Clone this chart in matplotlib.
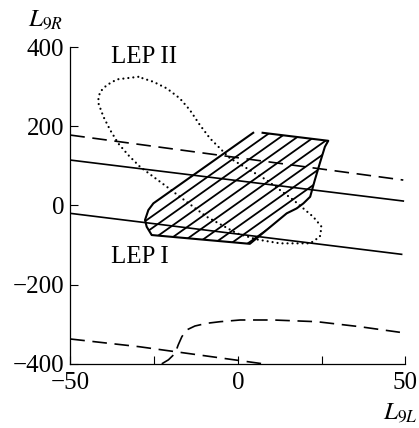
import numpy as np
import matplotlib
matplotlib.use("Agg")
import matplotlib.pyplot as plt
from matplotlib.patches import Polygon

plt.rcParams['font.family'] = ['Liberation Serif', 'DejaVu Serif']
plt.rcParams['mathtext.fontset'] = 'stix'
plt.rcParams['lines.scale_dashes'] = False

# allowed region (hatched), boundary traced clockwise from the top edge
region_x = [7.4, 27.0, 26.0, 24.5, 23.0, 21.6, 19.6, 17.6, 14.6, 3.6,
            -25.7, -27.2, -27.7, -26.7, -25.2, 4.6]
region_y = [183.3, 163.1, 148.0, 106.8, 64.0, 21.7, 5.1, -7.6, -20.2, -97.2,
            -75.0, -54.0, -37.1, -11.9, 5.1, 183.3]

# LEP I bounds (solid straight lines)
lep1_upper_x = [-50, 49.4]
lep1_upper_y = [114.4, 10.9]
lep1_lower_x = [-50, 48.9]
lep1_lower_y = [-20.2, -123.7]

# dashed bounds
dash_upper_x = [-50, 49.4]
dash_upper_y = [177.5, 63.9]
dash_lower_x = [-50, -29.5, 8.0]
dash_lower_y = [-337.6, -357.0, -400.8]
dash_curve_x = [-22.7, -20.7, -18.7, -17.8, -16.7, -15.3, -12.8, -9.3, -5.3,
                0.7, 10.6, 23.6, 36.5, 48.4]
dash_curve_y = [-400.3, -390.2, -373.7, -352.8, -331.8, -314.9, -304.8, -298.0,
                -293.9, -289.6, -289.6, -293.9, -306.6, -320.7]

# LEP II contour (dotted, closed)
lep2_x = [-29.7, -36.1, -39.1, -41.1, -41.6, -41.6, -40.1, -38.1, -35.7, -32.7,
          -29.2, -25.2, -21.2, -17.3, -13.3, -9.3, -0.3, 5.6, 12.6, 21.6, 24.5,
          25.0, 22.5, 16.6, 8.6, -2.3, -4.8, -8.3, -11.3, -14.3, -17.3, -21.2,
          -25.2, -29.7]
lep2_y = [324.7, 318.2, 303.8, 286.9, 270.2, 257.6, 223.7, 190.2, 156.6, 127.0,
          97.5, 72.2, 47.0, 21.7, -3.5, -28.8, -70.7, -86.0, -96.0, -96.0, -79.3,
          -54.0, -28.8, 13.4, 63.9, 118.7, 139.6, 169.2, 202.8, 240.7, 270.2,
          295.5, 312.1, 324.7]

hatch_slope = 6.0
hatch_step = 30.0
hatch_c0 = 156.0

fig = plt.figure(figsize=(4.19, 4.28), dpi=100)
ax = fig.add_axes([70.3 / 419, 1 - 363.7 / 428, 335 / 419, 316.7 / 428])
ax.set_xlim(-50, 50)
ax.set_ylim(-400, 400)

lw = 1.2
dash = (0, (10.5, 5.5))
ax.plot(lep1_upper_x, lep1_upper_y, color='k', lw=lw)
ax.plot(lep1_lower_x, lep1_lower_y, color='k', lw=lw)
ax.plot(dash_upper_x, dash_upper_y, color='k', lw=lw, linestyle=dash)
ax.plot(dash_lower_x, dash_lower_y, color='k', lw=lw, linestyle=dash)
ax.plot(dash_curve_x, dash_curve_y, color='k', lw=lw, linestyle=dash)
ax.plot(lep2_x, lep2_y, color='k', lw=1.6, linestyle=(0, (0.01, 3.6)),
        dash_capstyle='round')

# hatched region: clipped parallel lines plus the outline
region = Polygon(np.column_stack([region_x, region_y]), closed=True,
                 facecolor='none', edgecolor='none')
ax.add_patch(region)
xs = np.array([-50.0, 50.0])
for k in range(1, 12):
    c = hatch_c0 - k * hatch_step
    ln, = ax.plot(xs, hatch_slope * xs + c, color='k', lw=1.3)
    ln.set_clip_path(region)
ax.plot(region_x, region_y, color='k', lw=1.5, solid_joinstyle='round')

ax.text(-37.9, 358.6, 'LEP\u2009II', fontsize=18, ha='left', va='baseline')
ax.text(-37.9, -146.5, 'LEP\u2009I', fontsize=18, ha='left', va='baseline')

for s in ['top', 'right']:
    ax.spines[s].set_visible(False)
for s in ['left', 'bottom']:
    ax.spines[s].set_linewidth(0.9)

ax.set_xticks([-50, 0, 50])
ax.set_xticks([-25, 25], minor=True)
ax.set_yticks([-400, -200, 0, 200, 400])
ax.tick_params(which='both', direction='in', length=5.8, width=0.8,
               labelsize=18, top=False, right=False)
ax.tick_params(axis='x', pad=6)
ax.tick_params(axis='y', pad=4.5)

fig.text(28 / 419, 1 - 25 / 428, r'$L_{9R}$', fontsize=18, ha='left', va='baseline')
fig.text(383 / 419, 1 - 418 / 428, r'$L_{9L}$', fontsize=18, ha='left', va='baseline')

fig.savefig('out.png', dpi=100)
